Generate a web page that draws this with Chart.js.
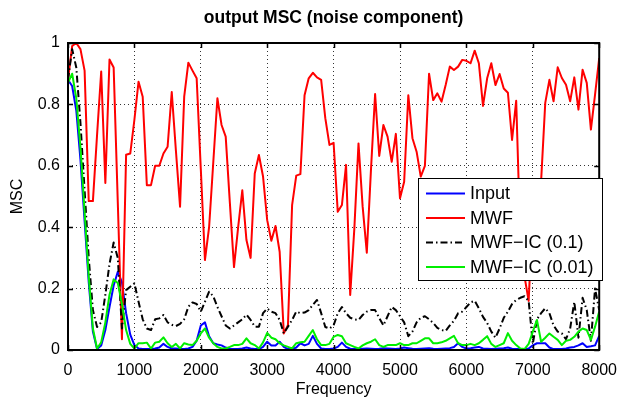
<!DOCTYPE html>
<html>
<head>
<meta charset="utf-8">
<script src="https://cdn.jsdelivr.net/npm/chart.js@4"></script>
<style>
  html, body { margin: 0; padding: 0; background: #fff; }
</style>
</head>
<body>
<canvas id="msc" width="628" height="405"></canvas>
<script>
// bins of 62.5 Hz, 0 .. 8000 Hz (129 bins)
const binHz = 62.5;

const inputMsc = [
  .88, .86, .78, .62, .42, .22, .06, .003, .015, .065,
  .14, .21, .255, .22, .12, .05, .016, .005, .003, .003,
  .003, .005, .008, .02, .01, .005, .005, .003, .003, .005,
  .01, .03, .08, .09, .045, .022, .018, .015, .008, .003,
  .003, .003, .005, .008, .005, .003, .003, .01, .027, .015,
  .015, .027, .01, .003, .003, .008, .022, .015, .02, .046,
  .02, .005, .003, .003, .005, .01, .024, .01, .004, .003,
  .003, .004, .005, .004, .003, .004, .006, .005, .004, .003,
  .005, .008, .006, .004, .003, .004, .005, .006, .004, .003,
  .004, .005, .006, .01, .022, .01, .005, .006, .008, .01,
  .005, .004, .003, .004, .005, .006, .008, .004, .003, .003,
  .003, .005, .015, .022, .022, .022, .008, .003, .003, .003,
  .005, .008, .01, .015, .022, .01, .012, .015, .046
];

const mwfMsc = [
  .88, .99, 1.0, .98, .91, .485, .485, .70, .907, .544,
  .946, .92, .48, .035, .636, .64, .75, .874, .825, .537,
  .537, .60, .60, .64, .662, .84, .65, .467, .825, .936,
  .91, .885, .59, .293, .40, .61, .82, .733, .695, .48,
  .27, .40, .52, .358, .30, .575, .635, .565, .423, .356,
  .404, .32, .054, .081, .472, .568, .573, .83, .885, .903,
  .888, .88, .755, .668, .675, .45, .472, .603, .179, .396,
  .673, .467, .317, .586, .834, .632, .733, .695, .613, .704,
  .494, .548, .83, .69, .646, .565, .60, .90, .814, .836,
  .809, .863, .923, .912, .923, .945, .942, .934, .975, .934,
  .795, .885, .934, .863, .899, .852, .838, .684, .812, .36,
  .24, .16, .45, .50, .55, .805, .88, .81, .921, .886,
  .864, .81, .888, .783, .913, .87, .718, .832, .951
];

const mwfIc01Msc = [
  .88, .98, .92, .74, .52, .30, .13, .075, .09, .18,
  .28, .35, .30, .07, .195, .206, .217, .157, .10, .07,
  .065, .10, .103, .114, .09, .082, .078, .085, .10, .141,
  .155, .15, .125, .157, .19, .175, .14, .11, .08, .07,
  .08, .09, .10, .115, .098, .076, .076, .12, .135, .125,
  .12, .098, .054, .076, .098, .125, .12, .122, .13, .147,
  .163, .12, .075, .07, .08, .12, .14, .12, .105, .10,
  .098, .114, .125, .13, .13, .104, .08, .11, .14, .13,
  .11, .09, .045, .06, .09, .105, .11, .10, .088, .072,
  .065, .062, .08, .095, .12, .125, .14, .155, .16, .136,
  .108, .088, .06, .04, .07, .105, .125, .15, .163, .17,
  .175, .16, .02, .10, .12, .136, .12, .08, .06, .054,
  .035, .07, .157, .04, .17, .13, .03, .20, .13
];

const mwfIc001Msc = [
  .87, .90, .82, .66, .45, .24, .07, .005, .025, .09,
  .18, .23, .218, .15, .065, .02, .005, .022, .022, .024,
  .005, .024, .027, .041, .022, .01, .02, .005, .022, .018,
  .016, .03, .054, .07, .04, .022, .01, .005, .005, .01,
  .016, .016, .02, .038, .022, .016, .005, .025, .056, .04,
  .035, .022, .015, .01, .005, .022, .025, .027, .046, .065,
  .035, .016, .016, .02, .043, .049, .045, .022, .016, .01,
  .005, .015, .022, .027, .035, .016, .01, .016, .016, .016,
  .022, .016, .016, .022, .022, .03, .038, .038, .022, .022,
  .025, .03, .038, .046, .022, .016, .016, .02, .016, .022,
  .033, .045, .02, .01, .016, .022, .055, .03, .016, .005,
  .003, .02, .06, .098, .027, .04, .054, .043, .033, .016,
  .03, .033, .043, .06, .07, .065, .033, .076, .125
];

const xTicks = [0, 1000, 2000, 3000, 4000, 5000, 6000, 7000, 8000];
const yTicks = [0, 0.2, 0.4, 0.6, 0.8, 1];
const seriesLabels = ['Input', 'MWF', 'MWF\u2212IC (0.1)', 'MWF\u2212IC (0.01)'];
const seriesColors = ['#0000ff', '#ff0000', '#000000', '#00ee00'];

const fontFamily = '"Liberation Sans", Arial, Helvetica, sans-serif';
const dashDot = [7, 3, 1.5, 3];

function toPoints(values) {
  return values.map((v, i) => ({ x: i * binHz, y: v }));
}

// frame, inward ticks, title, axis labels and legend (MATLAB look)
const decorPlugin = {
  id: 'decor',
  afterDatasetsDraw(chart) {
    const ctx = chart.ctx;
    const a = chart.chartArea;
    const xs = chart.scales.x;
    const ys = chart.scales.y;
    ctx.save();

    // inward ticks
    ctx.strokeStyle = '#000';
    ctx.lineWidth = 1.5;
    ctx.beginPath();
    xTicks.forEach(t => {
      const px = Math.round(xs.getPixelForValue(t)) + 0.5;
      ctx.moveTo(px, a.bottom); ctx.lineTo(px, a.bottom - 5);
      ctx.moveTo(px, a.top); ctx.lineTo(px, a.top + 5);
    });
    yTicks.forEach(t => {
      const py = Math.round(ys.getPixelForValue(t)) + 0.5;
      ctx.moveTo(a.left, py); ctx.lineTo(a.left + 5, py);
      ctx.moveTo(a.right, py); ctx.lineTo(a.right - 5, py);
    });
    ctx.stroke();

    // frame
    ctx.lineWidth = 2;
    ctx.strokeRect(a.left, a.top, a.right - a.left, a.bottom - a.top);

    // title
    ctx.fillStyle = '#000';
    ctx.textAlign = 'center';
    ctx.textBaseline = 'middle';
    ctx.font = 'bold 17.5px ' + fontFamily;
    ctx.fillText('output MSC (noise component)', (a.left + a.right) / 2, 18);

    // axis labels
    ctx.font = '16px ' + fontFamily;
    ctx.fillText('Frequency', (a.left + a.right) / 2, 390);
    ctx.save();
    ctx.translate(18, (a.top + a.bottom) / 2);
    ctx.rotate(-Math.PI / 2);
    ctx.fillText('MSC', 0, 0);
    ctx.restore();

    // legend
    const lx = 418, ly = 178, lw = 184, lh = 102;
    ctx.fillStyle = '#fff';
    ctx.fillRect(lx, ly, lw, lh);
    ctx.strokeStyle = '#000';
    ctx.lineWidth = 1;
    ctx.strokeRect(lx + 0.5, ly + 0.5, lw, lh);
    ctx.font = '18px ' + fontFamily;
    ctx.textAlign = 'left';
    chart.data.datasets.forEach((ds, i) => {
      const ry = ly + 15.5 + i * 24.5;
      ctx.strokeStyle = ds.borderColor;
      ctx.lineWidth = 2;
      ctx.setLineDash(ds.borderDash || []);
      ctx.beginPath();
      ctx.moveTo(lx + 8, ry);
      ctx.lineTo(lx + 47, ry);
      ctx.stroke();
      ctx.setLineDash([]);
      ctx.fillStyle = '#000';
      ctx.fillText(ds.label, lx + 52, ry + 1);
    });
    ctx.restore();
  }
};

new Chart(document.getElementById('msc'), {
  type: 'line',
  data: {
    datasets: [
      { label: seriesLabels[0], data: toPoints(inputMsc), borderColor: seriesColors[0], order: 3 },
      { label: seriesLabels[1], data: toPoints(mwfMsc), borderColor: seriesColors[1], order: 2 },
      { label: seriesLabels[2], data: toPoints(mwfIc01Msc), borderColor: seriesColors[2], borderDash: dashDot, order: 1 },
      { label: seriesLabels[3], data: toPoints(mwfIc001Msc), borderColor: seriesColors[3], order: 0 }
    ]
  },
  options: {
    responsive: false,
    animation: false,
    devicePixelRatio: 1,
    layout: { padding: { top: 43, right: 21, left: 0, bottom: 0 } },
    elements: {
      point: { radius: 0 },
      line: { borderWidth: 2, tension: 0, borderJoinStyle: 'round', fill: false }
    },
    scales: {
      x: {
        type: 'linear',
        min: 0,
        max: 8000,
        afterFit: (s) => { s.height = 55; },
        afterBuildTicks: (s) => { s.ticks = xTicks.map(v => ({ value: v })); },
        ticks: {
          color: '#000',
          padding: 11,
          maxRotation: 0,
          font: { family: fontFamily, size: 16 },
          callback: (v) => String(v)
        },
        grid: { color: '#333', lineWidth: 1, drawTicks: false, borderDash: [1, 3] },
        border: { display: false, dash: [1, 3] }
      },
      y: {
        min: 0,
        max: 1,
        afterFit: (s) => { s.width = 68; },
        afterBuildTicks: (s) => { s.ticks = yTicks.map(v => ({ value: v })); },
        ticks: {
          color: '#000',
          padding: 8,
          font: { family: fontFamily, size: 16 },
          callback: (v) => String(v)
        },
        grid: { color: '#333', lineWidth: 1, drawTicks: false, borderDash: [1, 3] },
        border: { display: false, dash: [1, 3] }
      }
    },
    plugins: {
      legend: { display: false },
      title: { display: false },
      tooltip: { enabled: false }
    }
  },
  plugins: [decorPlugin]
});
</script>
</body>
</html>
